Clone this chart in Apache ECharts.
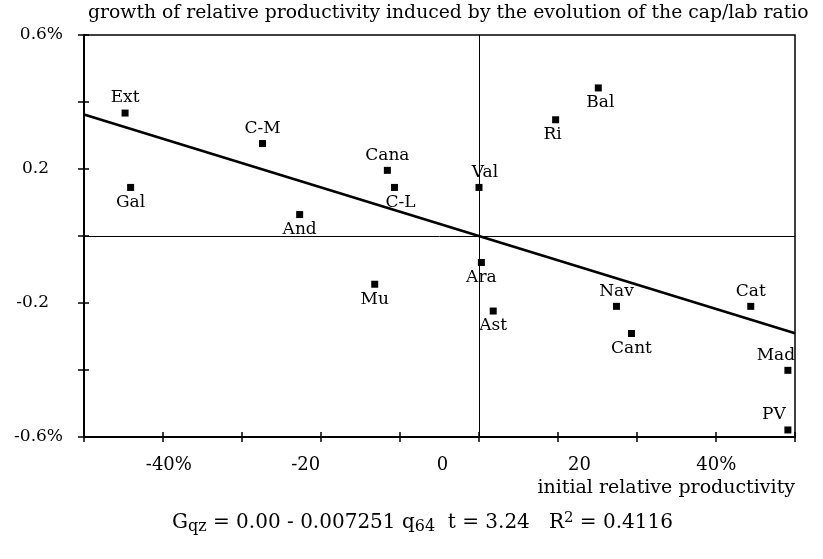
<!DOCTYPE html>
<html>
<head>
<meta charset="utf-8">
<script src="https://cdn.jsdelivr.net/npm/echarts@6/dist/echarts.min.js"></script>
<style>html,body{margin:0;padding:0;background:#fff}#c{width:823px;height:559px}</style>
</head>
<body>
<div id="c"></div>
<script>
// ---- data ----
const regions = ['Ext','C-M','Cana','C-L','Gal','And','Val','Bal','Ri','Ara','Mu','Ast','Nav','Cant','Cat','Mad','PV'];
const initialProd = [-44.8,-27.4,-11.6,-10.7,-44.1,-22.7,0.0,15.1,9.7,0.3,-13.2,1.8,17.4,19.3,34.4,39.1,39.1];
const growth = [0.367,0.276,0.196,0.145,0.145,0.064,0.145,0.442,0.347,-0.079,-0.144,-0.224,-0.210,-0.291,-0.210,-0.401,-0.579];
const fitX = [-50, 40];
const fitY = [0.363, -0.290];
const xTickLabels = ['-40%','-20','0','20','40%'];
const xTickLabelValues = [-40,-20,0,20,40];
const yTickLabels = {'0.6':'0.6%','0.2':'0.2','-0.2':'-0.2','-0.6':'-0.6%'};
const titleText = 'growth of relative productivity induced by the evolution of the cap/lab ratio';
const xName = 'initial relative productivity';

// label placement (style)
const above = {'Ext':1,'C-M':1,'Cana':1,'Val':1,'Nav':1,'Cat':1,'Mad':1,'PV':1};
const shift = {'Mad':[-12,0],'PV':[-14,0],'Val':[6,0],'C-L':[6,0],'Bal':[2,0],'Ri':[-3,0]};

const FONT = 'DejaVu Serif';
const chart = echarts.init(document.getElementById('c'), null, {renderer:'canvas'});

const pts = regions.map((n,i)=>{
  const up = !!above[n];
  const s = shift[n] || [0,0];
  return {
    name:n, value:[initialProd[i], growth[i]],
    label:{show:true, formatter:n, position: up?'top':'bottom', distance:3, offset:s}
  };
});

const fmtY = v => {
  const k = (Math.round(v*10)/10).toString();
  const t = yTickLabels[k];
  if (!t) return '';
  return t.indexOf('%')>=0 ? t : t + '{p| }';
};

chart.setOption({
  animation:false,
  backgroundColor:'#fff',
  textStyle:{fontFamily:FONT, color:'#000'},
  grid:{left:84, right:28, top:35, bottom:122, show:true, borderColor:'#000', borderWidth:1.5},
  xAxis:[
    {type:'value', min:-50, max:40, interval:10, gridIndex:0,
     axisLine:{show:true, onZero:false, lineStyle:{color:'#000', width:2}},
     axisTick:{show:true, inside:true, length:5, lineStyle:{color:'#000', width:1.5}},
     axisLabel:{show:false}, splitLine:{show:false}},
    {type:'value', min:-50, max:40, interval:10, gridIndex:0, position:'bottom',
     axisLine:{show:false, onZero:false},
     axisTick:{show:true, inside:false, length:5, lineStyle:{color:'#000', width:1.5}},
     axisLabel:{show:false}, splitLine:{show:false}},
    {type:'value', min:-52.4, max:51.5, gridIndex:0, position:'bottom',
     axisLine:{show:false, onZero:false}, axisTick:{show:false}, splitLine:{show:false},
     axisLabel:{show:true, customValues:xTickLabelValues, margin:19,
       fontFamily:FONT, fontSize:18, color:'#000',
       formatter:v=>xTickLabels[xTickLabelValues.indexOf(v)] || ''}}
  ],
  yAxis:[
    {type:'value', min:-0.6, max:0.6, interval:0.2, gridIndex:0,
     axisLine:{show:true, onZero:false, lineStyle:{color:'#000', width:2}},
     axisTick:{show:true, inside:true, length:5, lineStyle:{color:'#000', width:1.5}},
     axisLabel:{show:false}, splitLine:{show:false}},
    {type:'value', min:-0.6, max:0.6, interval:0.2, gridIndex:0, position:'left',
     axisLine:{show:false, onZero:false},
     axisTick:{show:true, inside:false, length:6, lineStyle:{color:'#000', width:1.5}},
     axisLabel:{show:true, margin:21, fontFamily:FONT, fontSize:17, color:'#000',
       formatter:fmtY, rich:{p:{width:14}}},
     splitLine:{show:false}}
  ],
  series:[
    {type:'line', xAxisIndex:0, yAxisIndex:0, data:fitX.map((x,i)=>[x,fitY[i]]),
     symbol:'none', lineStyle:{color:'#000', width:2.6}, silent:true, z:3},
    {type:'scatter', xAxisIndex:0, yAxisIndex:0, symbol:'rect', symbolSize:7,
     itemStyle:{color:'#000', opacity:1}, data:pts, z:4,
     label:{fontFamily:FONT, fontSize:17, color:'#000'},
     markLine:{silent:true, symbol:['none','none'], label:{show:false},
       lineStyle:{color:'#000', width:1, type:'solid'},
       data:[{xAxis:0},{yAxis:0}]}}
  ],
  graphic:[
    {type:'text', left:88, top:4, style:{text:titleText, font:'18.8px "DejaVu Serif"', fill:'#000'}},
    {type:'text', right:28, top:479, style:{text:xName, font:'19px "DejaVu Serif"', fill:'#000'}},
    {type:'text', left:172, top:511, style:{
      text:'G{sub|qz} = 0.00 - 0.007251 q{sub|64}  t = 3.24   R{sup|2} = 0.4116',
      font:'20px "DejaVu Serif"', fill:'#000',
      rich:{sub:{fontSize:16, fontFamily:FONT, verticalAlign:'bottom', padding:[8,0,0,0]},
            sup:{fontSize:15, fontFamily:FONT, verticalAlign:'top', padding:[0,0,8,0]}}}}
  ]
});
</script>
</body>
</html>
